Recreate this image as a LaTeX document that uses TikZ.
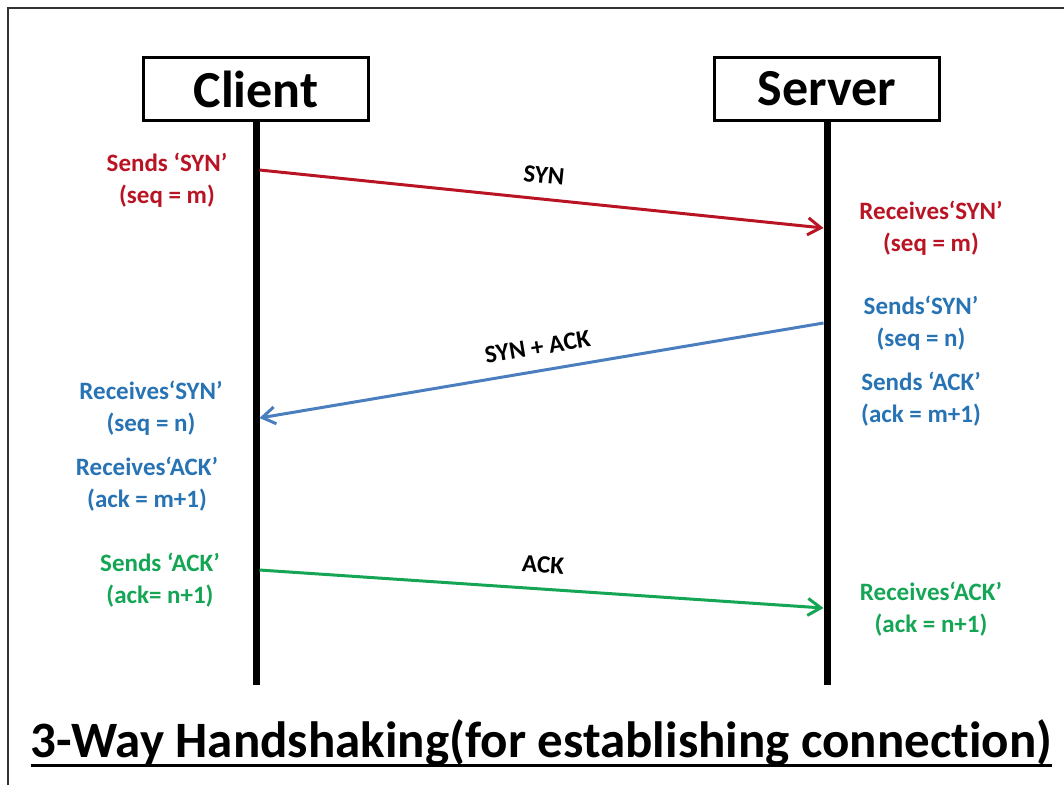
\documentclass[tikz,border=0pt]{standalone}
\usepackage{fontspec}
\setmainfont{Carlito}[RawFeature=-liga]
\usetikzlibrary{arrows.meta,positioning}

\definecolor{r190g20b30}{RGB}{185,20,35}
\definecolor{r46g117b182}{RGB}{40,115,180}
\definecolor{r74g126b187}{RGB}{74,126,190}
\definecolor{r0g170b80}{RGB}{20,165,85}

\tikzset{
  hostbox/.style={draw, line width=3pt, minimum width=225pt, minimum height=63pt,
    inner sep=0pt, font=\fontsize{52}{60}\selectfont\bfseries},
  lifeline/.style={line width=7pt},
  msgline/.style={line width=3pt, -{Straight Barb[length=13pt,width=17pt,line width=3pt]}},
  msglabel/.style={font=\fontsize{25}{32}\selectfont\bfseries, align=center, inner sep=0pt},
  msgtext/.style={midway, above=14pt, sloped, font=\fontsize{25}{28}\selectfont\bfseries, inner sep=0pt}
}

\begin{document}
\begin{tikzpicture}[x=1pt,y=-1pt]
  \useasboundingbox (0,0) rectangle (1064,785);

  % Drawing frame
  \draw [line width=1.5pt, black!80] (8,785) -- (8,8) -- (1064,8);

  % Hosts
  \node [hostbox] (client) at (256,89) {Client};
  \node [hostbox] (server) at (827,89) {Server};

  % Lifelines
  \coordinate (clientend) at (256,685);
  \coordinate (serverend) at (827,685);
  \draw [lifeline] (client.south) -- (clientend);
  \draw [lifeline] (server.south) -- (serverend);

  % Points on lifelines
  \coordinate (csyn) at (259.5,170);
  \coordinate (ssyn) at (823.5,228);
  \coordinate (ssynack) at (823.5,323);
  \coordinate (csynack) at (259.5,418);
  \coordinate (cack) at (259.5,570);
  \coordinate (sack) at (823.5,608);

  % Drawing SYN
  \draw [msgline, r190g20b30] (csyn) -- (ssyn)
    node [msgtext, text=black] (synlbl) {SYN};
  \node [msglabel, text=r190g20b30] (sendsyn) at (167,180) {Sends ‘SYN’\\(seq = m)};
  \node [msglabel, text=r190g20b30] (recvsyn) at (931,228) {Receives‘SYN’\\(seq = m)};

  % Drawing SYN + ACK
  \draw [msgline, r74g126b187] (ssynack) -- (csynack)
    node [msgtext, text=black] (synacklbl) {SYN + ACK};
  \node [msglabel, text=r46g117b182] (sendsynb) at (921,323) {Sends‘SYN’\\(seq = n)};
  \node [msglabel, text=r46g117b182] (sendackb) at (921,399) {Sends ‘ACK’\\(ack = m+1)};
  \node [msglabel, text=r46g117b182] (recvsynb) at (151,408) {Receives‘SYN’\\(seq = n)};
  \node [msglabel, text=r46g117b182] (recvackb) at (147,484) {Receives‘ACK’\\(ack = m+1)};

  % Drawing ACK
  \draw [msgline, r0g170b80] (cack) -- (sack)
    node [msgtext, text=black] (acklbl) {ACK};
  \node [msglabel, text=r0g170b80] (sendack) at (160,580) {Sends ‘ACK’\\(ack= n+1)};
  \node [msglabel, text=r0g170b80] (recvack) at (931,609) {Receives‘ACK’\\(ack = n+1)};

  % Title
  \node [font=\fontsize{51}{56}\selectfont\bfseries, inner sep=0pt, anchor=base]
    (title) at (541.5,757) {3-Way Handshaking(for establishing connection)};
  \draw [line width=3pt] ([yshift=-8pt]title.base west) -- ([yshift=-8pt]title.base east);
\end{tikzpicture}
\end{document}
